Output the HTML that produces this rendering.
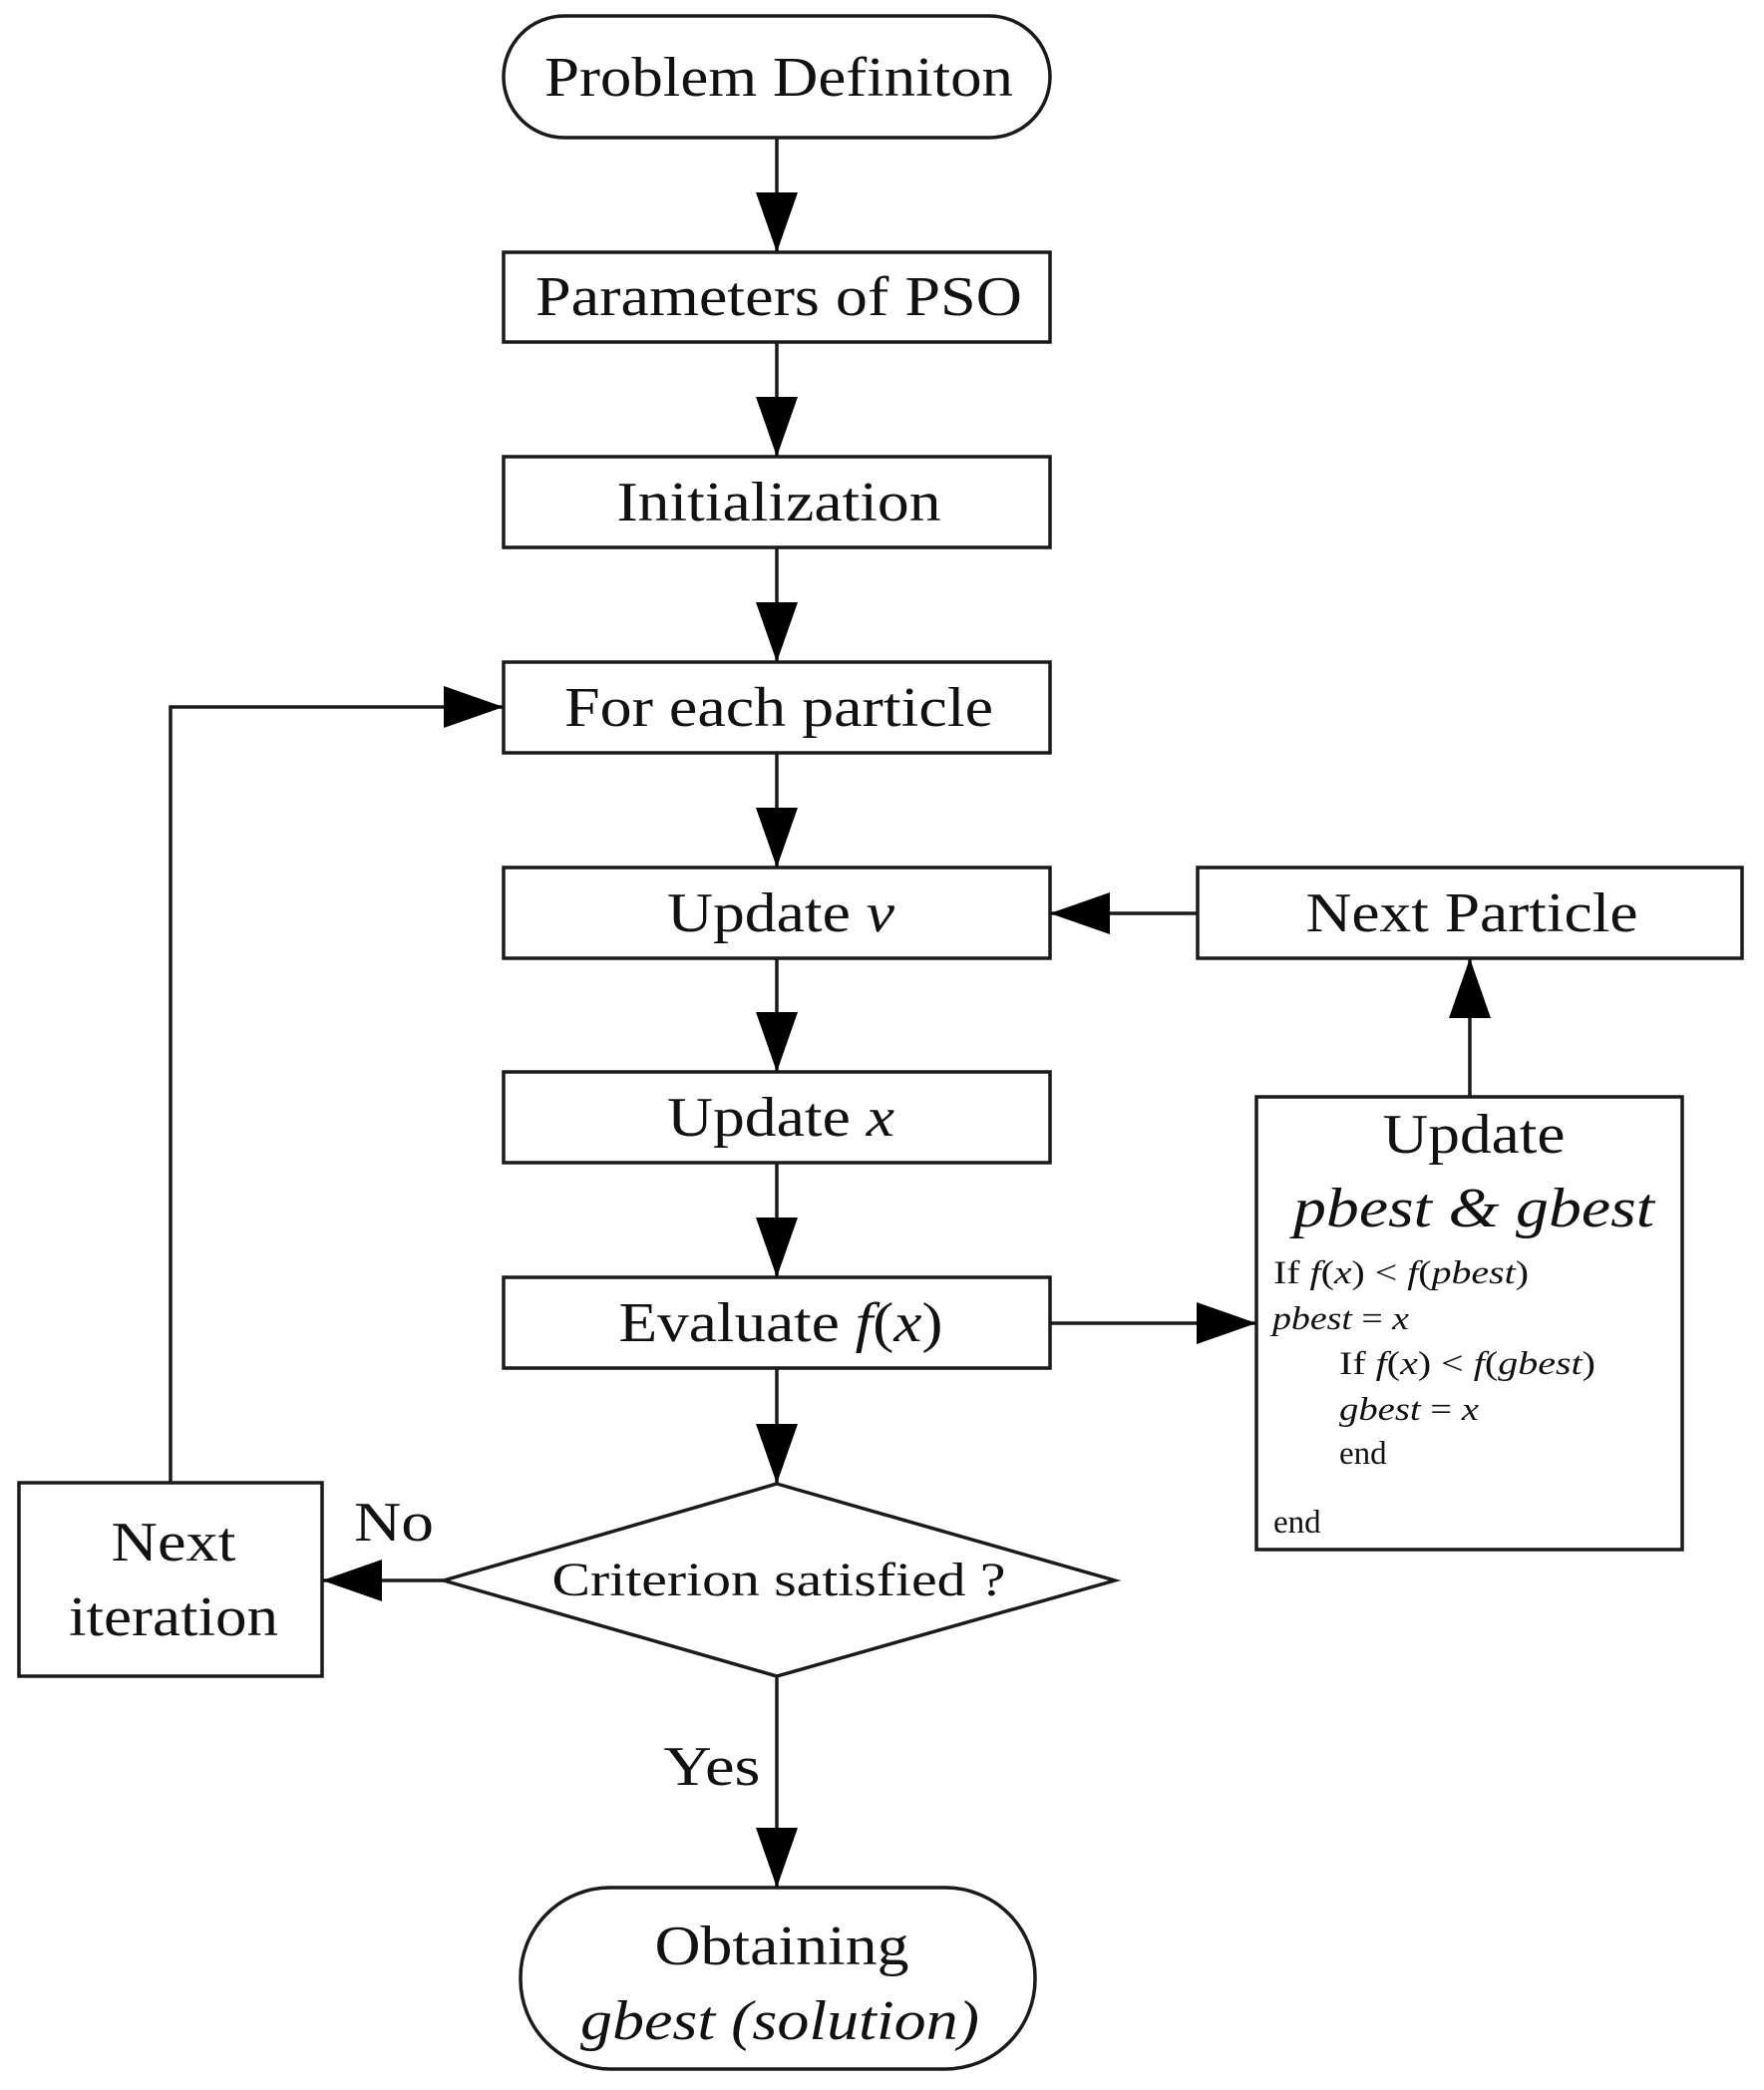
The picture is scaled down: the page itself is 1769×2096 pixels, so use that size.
<!DOCTYPE html>
<html><head><meta charset="utf-8"><style>html,body{margin:0;padding:0;background:#fff}svg{display:block}</style></head>
<body>
<svg width="1769" height="2096" viewBox="0 0 1769 2096" xmlns="http://www.w3.org/2000/svg" font-family="Liberation Serif, serif" fill="none" stroke="#1a1a1a" stroke-width="3.5">
<defs>
<marker id="a" markerUnits="userSpaceOnUse" markerWidth="62" markerHeight="42" refX="60" refY="21" orient="auto"><path d="M0,0 L60,21 L0,42 Z" fill="#000" stroke="none"/></marker>
</defs>
<rect x="505" y="16" width="548" height="122" rx="61" ry="61"/>
<rect x="505" y="253" width="548" height="90"/>
<rect x="505" y="458" width="548" height="91"/>
<rect x="505" y="664" width="548" height="91"/>
<rect x="505" y="870" width="548" height="91"/>
<rect x="505" y="1075" width="548" height="91"/>
<rect x="505" y="1281" width="548" height="91"/>
<polygon points="779,1488 1118,1585 779,1681 445,1585"/>
<rect x="19" y="1487" width="304" height="194"/>
<rect x="1201" y="870" width="546" height="91"/>
<rect x="1260" y="1100" width="427" height="454"/>
<rect x="522" y="1893" width="516" height="182" rx="90" ry="90"/>
<g marker-end="url(#a)">
<line x1="779" y1="138" x2="779" y2="253"/>
<line x1="779" y1="343" x2="779" y2="458"/>
<line x1="779" y1="549" x2="779" y2="664"/>
<line x1="779" y1="755" x2="779" y2="870"/>
<line x1="779" y1="961" x2="779" y2="1075"/>
<line x1="779" y1="1166" x2="779" y2="1281"/>
<line x1="779" y1="1372" x2="779" y2="1488"/>
<line x1="779" y1="1681" x2="779" y2="1893"/>
<line x1="445" y1="1585" x2="323" y2="1585"/>
<polyline points="171,1487 171,709 505,709"/>
<line x1="1053" y1="1327" x2="1260" y2="1327"/>
<line x1="1474" y1="1100" x2="1474" y2="961"/>
<line x1="1201" y1="916" x2="1053" y2="916"/>
</g>
<g fill="#111" stroke="none" font-size="56" text-anchor="middle">
<text x="781" y="96" textLength="470" lengthAdjust="spacingAndGlyphs">Problem Definiton</text>
<text x="781" y="316" textLength="488" lengthAdjust="spacingAndGlyphs">Parameters of PSO</text>
<text x="781" y="522" textLength="325" lengthAdjust="spacingAndGlyphs">Initialization</text>
<text x="781" y="728" textLength="430" lengthAdjust="spacingAndGlyphs">For each particle</text>
<text x="783" y="934" textLength="228" lengthAdjust="spacingAndGlyphs">Update <tspan font-style="italic">v</tspan></text>
<text x="783" y="1139" textLength="228" lengthAdjust="spacingAndGlyphs">Update <tspan font-style="italic">x</tspan></text>
<text x="783" y="1345" textLength="325" lengthAdjust="spacingAndGlyphs">Evaluate <tspan font-style="italic">f</tspan>(<tspan font-style="italic">x</tspan>)</text>
<text x="781" y="1600" font-size="48" textLength="455" lengthAdjust="spacingAndGlyphs">Criterion satisfied ?</text>
<text x="174" y="1565" textLength="125" lengthAdjust="spacingAndGlyphs">Next</text>
<text x="174" y="1640" textLength="210" lengthAdjust="spacingAndGlyphs">iteration</text>
<text x="395" y="1545" textLength="80" lengthAdjust="spacingAndGlyphs">No</text>
<text x="714" y="1790" textLength="97" lengthAdjust="spacingAndGlyphs">Yes</text>
<text x="1476" y="934" textLength="333" lengthAdjust="spacingAndGlyphs">Next Particle</text>
<text x="1478" y="1156" textLength="183" lengthAdjust="spacingAndGlyphs">Update</text>
<text x="1478" y="1230" font-style="italic" textLength="362" lengthAdjust="spacingAndGlyphs">pbest &amp; gbest</text>
<text x="784" y="1970" textLength="255" lengthAdjust="spacingAndGlyphs">Obtaining</text>
<text x="782" y="2045" font-style="italic" textLength="400" lengthAdjust="spacingAndGlyphs">gbest (solution)</text>
</g>
<g fill="#111" stroke="none" font-size="33" text-anchor="start">
<text x="1277" y="1287" textLength="256" lengthAdjust="spacingAndGlyphs">If  <tspan font-style="italic">f</tspan>(<tspan font-style="italic">x</tspan>) &lt; <tspan font-style="italic">f</tspan>(<tspan font-style="italic">pbest</tspan>)</text>
<text x="1276" y="1333" textLength="137" lengthAdjust="spacingAndGlyphs"><tspan font-style="italic">pbest</tspan> = <tspan font-style="italic">x</tspan></text>
<text x="1343" y="1378" textLength="257" lengthAdjust="spacingAndGlyphs">If  <tspan font-style="italic">f</tspan>(<tspan font-style="italic">x</tspan>) &lt; <tspan font-style="italic">f</tspan>(<tspan font-style="italic">gbest</tspan>)</text>
<text x="1343" y="1424" textLength="140" lengthAdjust="spacingAndGlyphs"><tspan font-style="italic">gbest</tspan> = <tspan font-style="italic">x</tspan></text>
<text x="1343" y="1468">end</text>
<text x="1277" y="1537">end</text>
</g>
</svg>
</body></html>
